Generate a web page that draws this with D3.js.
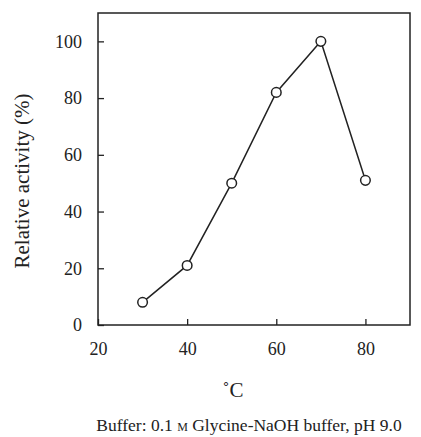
<!DOCTYPE html>
<html>
<head>
<meta charset="utf-8">
<script src="https://cdn.jsdelivr.net/npm/d3@7/dist/d3.min.js"></script>
<style>
  body { margin: 0; background: #fff; }
  svg { font-family: "Liberation Serif", "Times New Roman", serif; }
</style>
</head>
<body>
<svg class="chart" width="421" height="437"></svg>
<script>
var temperatures = [30, 40, 50, 60, 70, 80];
var activity = [8, 21, 50, 82, 100, 51];
var xTicks = [20, 40, 60, 80];
var yTicks = [0, 20, 40, 60, 80, 100];

var box = { left: 98, right: 410, top: 13, bottom: 325 };

var chart = d3.select(".chart");

var x = d3.scaleLinear().domain([20, 90]).range([box.left, box.right]);
var y = d3.scaleLinear().domain([0, 110]).range([box.bottom, box.top]);

var translate = function(px, py) {
    return "translate(" + px + "," + py + ")";
};

// x axis: ticks point inward, labels below
var xAxis = chart.append("g")
    .attr("transform", translate(0, box.bottom))
    .call(d3.axisBottom(x).tickValues(xTicks).tickSize(-6).tickPadding(17));

// y axis: ticks point inward, labels left
var yAxis = chart.append("g")
    .attr("transform", translate(box.left, 0))
    .call(d3.axisLeft(y).tickValues(yTicks).tickSize(-6).tickPadding(16));

[xAxis, yAxis].forEach(function(a) {
    a.attr("font-size", 18).attr("font-family", "Liberation Serif");
    a.select(".domain").remove();
    a.selectAll("line").attr("stroke", "#222").attr("stroke-width", 1.3);
    a.selectAll("text").attr("fill", "#222");
});

// frame
chart.append("rect")
    .attr("x", box.left)
    .attr("y", box.top)
    .attr("width", box.right - box.left)
    .attr("height", box.bottom - box.top)
    .attr("fill", "none")
    .attr("stroke", "#222")
    .attr("stroke-width", 1.5);

var points = temperatures.map(function(t, i) { return [t, activity[i]]; });

chart.append("path")
    .datum(points)
    .attr("fill", "none")
    .attr("stroke", "#222")
    .attr("stroke-width", 1.5)
    .attr("d", d3.line()
        .x(function(d) { return x(d[0]); })
        .y(function(d) { return y(d[1]); }));

chart.selectAll("circle")
    .data(points)
  .enter()
    .append("circle")
    .attr("cx", function(d) { return x(d[0]); })
    .attr("cy", function(d) { return y(d[1]); })
    .attr("r", 4.8)
    .attr("fill", "#fff")
    .attr("stroke", "#222")
    .attr("stroke-width", 1.5);

// y label
chart.append("text")
    .attr("transform", translate(29, 181) + " rotate(-90)")
    .attr("text-anchor", "middle")
    .attr("font-size", 21)
    .attr("fill", "#222")
    .text("Relative activity (%)");

// x label
chart.append("text")
    .attr("x", 233)
    .attr("y", 397)
    .attr("text-anchor", "middle")
    .attr("font-size", 21)
    .attr("fill", "#222")
    .text("\u02DAC");

// footnote
var note = chart.append("text")
    .attr("x", 249)
    .attr("y", 431)
    .attr("text-anchor", "middle")
    .attr("font-size", 17.5)
    .attr("fill", "#222");
note.append("tspan").text("Buffer: 0.1 ");
note.append("tspan").style("font-variant", "small-caps").text("m");
note.append("tspan").text(" Glycine-NaOH buffer, pH 9.0");
</script>
</body>
</html>
